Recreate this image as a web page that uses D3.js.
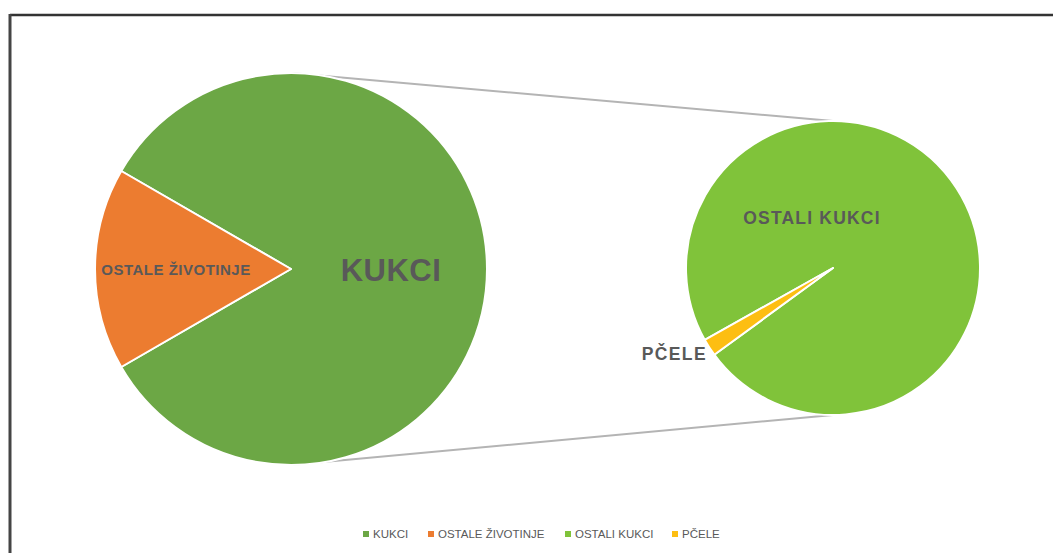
<!DOCTYPE html>
<html>
<head>
<meta charset="utf-8">
<script src="https://cdn.jsdelivr.net/npm/d3@7"></script>
<style>
  body { margin: 0; background: #fff; }
  text { font-family: "Liberation Sans", Arial, sans-serif; }
</style>
</head>
<body>
<div id="chart"></div>
<script>
// main pie
var mainNames = ["KUKCI", "OSTALE ŽIVOTINJE"];
var mainValues = [1000000, 200000];
var mainColors = ["#6ca745", "#ec7c30"];
// secondary pie (breakdown of KUKCI)
var subNames = ["OSTALI KUKCI", "PČELE"];
var subValues = [980000, 19000];
var subColors = ["#80c33a", "#fdbe12"];

var legendNames = ["KUKCI", "OSTALE ŽIVOTINJE", "OSTALI KUKCI", "PČELE"];
var legendColors = [mainColors[0], mainColors[1], subColors[0], subColors[1]];

var width = 1053, height = 553;
var svg = d3.select("#chart").append("svg")
  .attr("width", width).attr("height", height);

// frame
svg.append("line").attr("x1", 10).attr("y1", 15).attr("x2", width).attr("y2", 15)
  .style("stroke", "#333").style("stroke-width", 2.5);
svg.append("line").attr("x1", 10).attr("y1", 14).attr("x2", 10).attr("y2", height)
  .style("stroke", "#444").style("stroke-width", 3);

var c1 = {x: 291, y: 269, r: 196};
var c2 = {x: 833, y: 268, r: 147};

// connector lines (drawn below the pies)
var conn = svg.append("g");
[[c1.y - c1.r, c2.y - c2.r], [c1.y + c1.r, c2.y + c2.r]].forEach(function(p) {
  conn.append("line")
    .attr("x1", c1.x).attr("y1", p[0])
    .attr("x2", c2.x).attr("y2", p[1])
    .style("stroke", "#b4b4b4").style("stroke-width", 2);
});

var deg = Math.PI / 180;
var total1 = d3.sum(mainValues);
var pie1 = d3.pie().sort(null)
  .startAngle(270 * deg + (mainValues[1] / total1) * Math.PI)
  .endAngle(270 * deg + (mainValues[1] / total1) * Math.PI + 2 * Math.PI);
var arc1 = d3.arc().innerRadius(0).outerRadius(c1.r);

var g1 = svg.append("g").attr("transform", "translate(" + c1.x + "," + c1.y + ")");
g1.selectAll("path").data(pie1(mainValues)).enter().append("path")
  .attr("d", arc1)
  .style("fill", function(d, i) { return mainColors[i]; })
  .style("stroke", "#fff").style("stroke-width", 2).style("stroke-linejoin", "round");

var pie2 = d3.pie().sort(null)
  .startAngle(240.7 * deg).endAngle(240.7 * deg + 2 * Math.PI);
var arc2 = d3.arc().innerRadius(0).outerRadius(c2.r);
var g2 = svg.append("g").attr("transform", "translate(" + c2.x + "," + c2.y + ")");
g2.selectAll("path").data(pie2(subValues)).enter().append("path")
  .attr("d", arc2)
  .style("fill", function(d, i) { return subColors[i]; })
  .style("stroke", "#fff").style("stroke-width", 2).style("stroke-linejoin", "round");

// data labels
function label(x, y, txt, size, spacing, anchor) {
  svg.append("text").attr("x", x).attr("y", y)
    .attr("text-anchor", anchor || "middle")
    .attr("dominant-baseline", "central")
    .style("font-size", size + "px").style("font-weight", "bold")
    .style("letter-spacing", spacing + "px")
    .style("fill", "#595959")
    .text(txt);
}
label(391, 270, mainNames[0], 31, 0.5);
label(176, 269, mainNames[1], 15, 0.5);
label(812, 218, subNames[0], 17.5, 1.2);
label(707, 354, subNames[1], 17.5, 1.4, "end");

// legend
var legendX = [366, 431, 568, 675];
var lg = svg.append("g");
legendNames.forEach(function(n, i) {
  lg.append("rect").attr("x", legendX[i] - 3).attr("y", 531).attr("width", 6).attr("height", 6)
    .style("fill", legendColors[i]);
  lg.append("text").attr("x", legendX[i] + 7).attr("y", 534)
    .attr("dominant-baseline", "central")
    .style("font-size", "11.5px").style("fill", "#595959")
    .text(n);
});
</script>
</body>
</html>
